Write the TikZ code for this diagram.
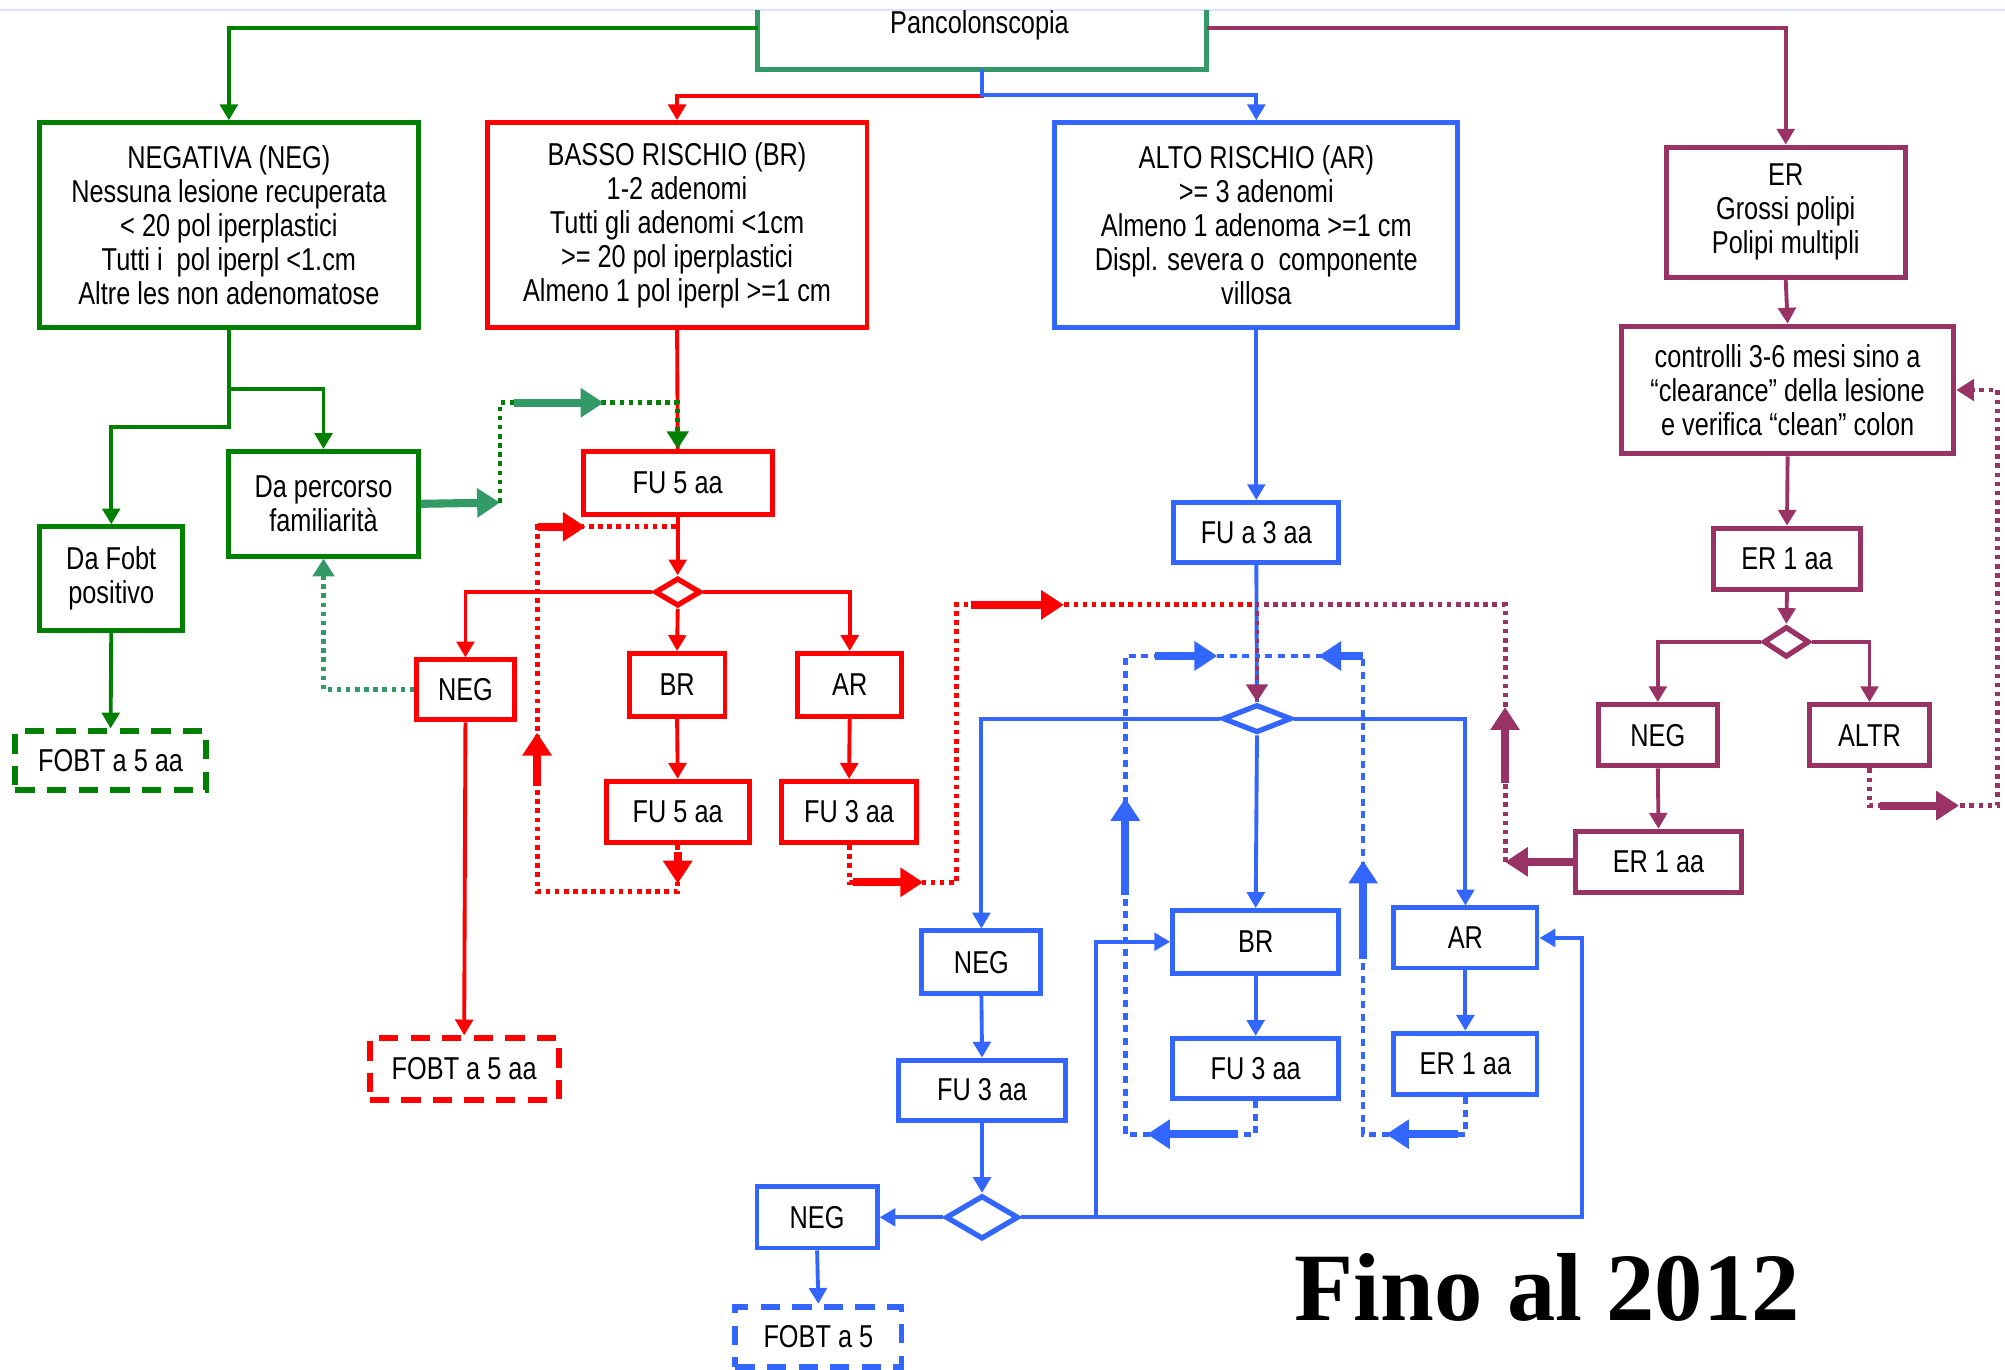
\documentclass[tikz,border=0pt]{standalone}
\usepackage{fontspec}
\setmainfont{Liberation Sans}[FakeStretch=0.8]
\newfontfamily\timesf{Liberation Serif}
\usetikzlibrary{arrows.meta,shapes.geometric}
\definecolor{dgreen}{RGB}{0,128,0}
\definecolor{sgreen}{RGB}{51,153,102}
\definecolor{myred}{RGB}{255,0,0}
\definecolor{myblue}{RGB}{51,102,255}
\definecolor{mypurple}{RGB}{153,51,102}
\def\uu{0.012787cm}
\tikzset{
 sz/.style 2 args={minimum width=#1*\uu, minimum height=#2*\uu},
 box/.style={draw, line width=1.4pt, fill=white, align=center, inner sep=0pt, font=\fontsize{9}{9.7}\selectfont},
 gbox/.style={box, draw=dgreen},
 rbox/.style={box, draw=myred},
 bbox/.style={box, draw=myblue},
 pbox/.style={box, draw=mypurple},
 dsh/.style={dash pattern=on 5.5pt off 3.5pt, line width=1.7pt},
 dia/.style={diamond, draw, line width=1.5pt, fill=white, inner sep=0pt},
 con/.style={line width=1.1pt},
 arr/.style={con, -{Triangle[length=4.5pt,width=5pt]}},
 dotl/.style={line width=1.4pt, dash pattern=on 1.3pt off 1.3pt},
 bdotl/.style={line width=1.3pt, dash pattern=on 2pt off 1.6pt},
 thk/.style={line width=2.3pt, -{Triangle[length=6.5pt,width=8pt]}},
 hd/.style={-{Triangle[length=5pt,width=6pt]}},
}
\begin{document}
\begin{tikzpicture}[x=0.012787cm, y=-0.012787cm]
\useasboundingbox (0,0) rectangle (1568,1071);
\draw[line width=0.6pt, color=myblue!18] (0,8) -- (1568,8);

% top
\node[sz={350}{45}, inner sep=0pt] (pan) at (768,31) {};
\draw[sgreen, line width=1.4pt] (pan.north west) -- (pan.south west) -- (pan.south east) -- (pan.north east);
\node[font=\fontsize{9}{9.7}\selectfont] (pantxt) at (766,20) {Pancolonscopia};

% first level
\node[gbox, sz={296}{160}] (negA) at (179,176) {NEGATIVA (NEG)\\Nessuna lesione recuperata\\< 20 pol iperplastici\\Tutti i\ \ pol iperpl <1.cm\\Altre les non adenomatose};
\node[rbox, sz={297}{160}] (brA) at (529.5,176) {BASSO RISCHIO (BR)\\1-2 adenomi\\Tutti gli adenomi <1cm\\>= 20 pol iperplastici\\Almeno 1 pol iperpl >=1 cm};
\node[bbox, sz={315}{160}] (arA) at (982.5,176) {ALTO RISCHIO (AR)\\>= 3 adenomi\\Almeno 1 adenoma >=1 cm\\Displ. severa o\ \ componente\\villosa};
\node[pbox, sz={187}{102}] (er) at (1396.5,166) {ER\\Grossi polipi\\Polipi multipli};
\node[pbox, sz={260}{100}] (ctrl) at (1398,305) {controlli 3-6 mesi sino a\\“clearance” della lesione\\e verifica “clean” colon};

% green branch
\node[gbox, sz={148}{82}] (dap) at (253,394) {Da percorso\\familiarità};
\node[gbox, sz={112}{81}] (dafobt) at (87,452.5) {Da Fobt\\positivo};
\node[gbox, dsh, sz={149}{46}] (fobtG) at (86.5,595) {FOBT a 5 aa};

% red branch
\node[rbox, sz={148}{49}] (fu5) at (530,377.5) {FU 5 aa};
\node[dia, draw=myred, sz={36}{22}] (rd) at (530,463) {};
\node[rbox, sz={76}{47}] (rneg) at (364,539.5) {NEG};
\node[rbox, sz={75}{49}] (rbr) at (529.5,535.5) {BR};
\node[rbox, sz={81}{49}] (rar) at (664.5,535.5) {AR};
\node[rbox, sz={112}{48}] (rfu5) at (530,635) {FU 5 aa};
\node[rbox, sz={106}{48}] (rfu3) at (664,635) {FU 3 aa};
\node[rbox, dsh, sz={148}{48}] (rfobt) at (363,836) {FOBT a 5 aa};

% blue branch
\node[bbox, sz={129}{47}] (fua3) at (982.5,416.5) {FU a 3 aa};
\node[dia, draw=myblue, sz={54}{22}] (bd) at (983,562) {};
\node[bbox, sz={93}{49}] (bneg) at (767.5,752.5) {NEG};
\node[bbox, sz={130}{49}] (bbr) at (982,736.5) {BR};
\node[bbox, sz={112}{47}] (bar) at (1146,733.5) {AR};
\node[bbox, sz={130}{47}] (bfu3a) at (768,852.5) {FU 3 aa};
\node[bbox, sz={130}{47}] (bfu3b) at (982,835.5) {FU 3 aa};
\node[bbox, sz={112}{48}] (ber1) at (1146,832) {ER 1 aa};
\node[dia, draw=myblue, sz={57}{34}] (bd2) at (768,952) {};
\node[bbox, sz={94}{48}] (bneg2) at (639,952) {NEG};
\node[bbox, dsh, sz={130}{47}] (bfobt) at (640,1045.5) {FOBT a 5};

% purple branch
\node[pbox, sz={115}{48}] (per1) at (1397.5,437) {ER 1 aa};
\node[dia, draw=mypurple, sz={36}{24}] (pd) at (1397,502) {};
\node[pbox, sz={93}{48}] (pneg) at (1296.5,575) {NEG};
\node[pbox, sz={94}{48}] (paltr) at (1462,575) {ALTR};
\node[pbox, sz={130}{48}] (per1b) at (1297,674) {ER 1 aa};

\node[font=\timesf\bfseries\fontsize{27.5}{30}\selectfont] (fino) at (1210,1007) {Fino al 2012};

% coordinates
\coordinate (g1) at (391,393);
\coordinate (j) at (983,473);
\coordinate (j2) at (983,513);
\coordinate (pk) at (1177,674);
\coordinate (bj) at (857,952);

% solid connectors from top
\draw[arr, dgreen] (pan.west |- 0,22) -| (negA.north);
\draw[arr, mypurple] (pan.east |- 0,22) -| (er.north);
\draw[arr, myred] (pan.south) -- (pan.south |- 0,75) -| (brA.north);
\draw[arr, myblue] (pan.south) -- (pan.south |- 0,74) -| (arA.north);

% green
\draw[arr, dgreen] (negA.south) -- (179,334) -| (dafobt.north);
\draw[arr, dgreen] (negA.south |- 0,304) -| (dap.north);
\draw[arr, dgreen] (dafobt.south) -- (fobtG.north);

% red
\draw[con, myred] (brA.south) -- (fu5.north);
\draw[arr, myred] (fu5.south) -- (rd.north);
\draw[arr, myred] (rd.west) -| (rneg.north);
\draw[arr, myred] (rd.east) -| (rar.north);
\draw[arr, myred] (rd.south) -- (rbr.north);
\draw[arr, myred] (rbr.south) -- (rfu5.north);
\draw[arr, myred] (rar.south) -- (rfu3.north);
\draw[arr, myred] (rneg.south) -- (rfobt.north);

% blue
\draw[arr, myblue] (arA.south) -- (fua3.north);
\draw[con, myblue] (fua3.south) -- (bd.north);
\draw[arr, myblue] (bd.west) -| (bneg.north);
\draw[arr, myblue] (bd.east) -| (bar.north);
\draw[arr, myblue] (bd.south) -- (bbr.north);
\draw[arr, myblue] (bneg.south) -- (bfu3a.north);
\draw[arr, myblue] (bfu3a.south) -- (bd2.north);
\draw[arr, myblue] (bd2.west) -- (bneg2.east);
\draw[arr, myblue] (bd2.east) -- (1237,952) |- (bar.east);
\draw[arr, myblue] (bj) |- (bbr.west);
\draw[arr, myblue] (bbr.south) -- (bfu3b.north);
\draw[arr, myblue] (bar.south) -- (ber1.north);
\draw[arr, myblue] (bneg2.south) -- (bfobt.north);

% purple
\draw[arr, mypurple] (er.south) -- (ctrl.north);
\draw[arr, mypurple] (ctrl.south) -- (per1.north);
\draw[arr, mypurple] (per1.south) -- (pd.north);
\draw[arr, mypurple] (pd.west) -| (pneg.north);
\draw[arr, mypurple] (pd.east) -| (paltr.north);
\draw[arr, mypurple] (pneg.south) -- (per1b.north);

% green dotted loops
\draw[thk, sgreen] (dap.east) -- (g1);
\draw[dotl, dgreen, hd] (g1) |- (fu5.north |- 0,315) -- (fu5.north);
\draw[thk, sgreen] (402,315) -- (472,315);
\draw[dotl, sgreen, hd] (rneg.west) -| (dap.south);

% red dotted loops
\draw[dotl, myred] (rfu5.south) -- (530,697) -| (420,412) -- (fu5.south |- 0,412);
\draw[thk, myred] (530,666) -- (530,691);
\draw[thk, myred] (420,615) -- (420,573);
\draw[thk, myred] (421,412) -- (458,412);
\draw[dotl, myred] (rfu3.south) |- (748,690) |- (j);
\draw[thk, myred] (667,690) -- (722,690);
\draw[thk, myred] (759,473) -- (832,473);

% purple dotted loops
\draw[thk, mypurple] (per1b.west) -- (pk);
\draw[dotl, mypurple, hd] (pk) -- (1177,473) -- (j) -- (bd.north);
\draw[thk, mypurple] (1177,612) -- (1177,553);
\draw[dotl, mypurple, hd] (paltr.south) |- (1562,630) |- (ctrl.east);
\draw[thk, mypurple] (1470,630) -- (1532,630);

% blue dotted loops
\draw[bdotl, myblue] (bfu3b.south) |- (880,887) |- (j2);
\draw[bdotl, myblue] (ber1.south) |- (1066,887) |- (j2);
\draw[thk, myblue] (968,887) -- (897,887);
\draw[thk, myblue] (880,700) -- (880,624);
\draw[thk, myblue] (903,513) -- (952,513);
\draw[thk, myblue] (1140,887) -- (1084,887);
\draw[thk, myblue] (1066,750) -- (1066,673);
\draw[thk, myblue] (1066,513) -- (1031,513);
\end{tikzpicture}
\end{document}
